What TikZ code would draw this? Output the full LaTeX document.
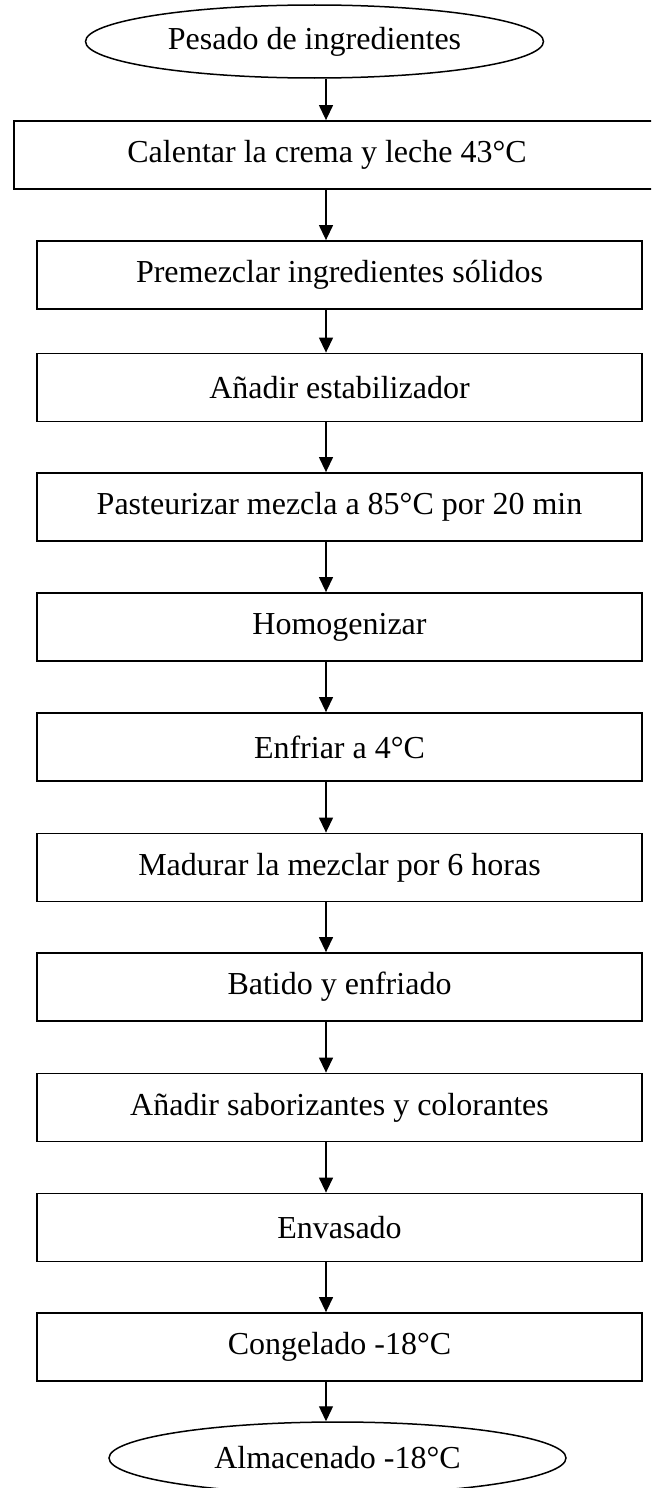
\documentclass[tikz,border=0pt]{standalone}
\usepackage{fontspec}
\setmainfont{Liberation Serif}
\usetikzlibrary{shapes.geometric,arrows.meta}
\tikzset{
  stepbox/.style={draw=black, line width=1.8pt, rectangle, minimum width=605pt, minimum height=68pt, inner sep=0pt, font=\fontsize{32}{37}\selectfont},
  termnode/.style={draw=black, line width=1.5pt, ellipse, minimum width=458pt, minimum height=73pt, inner sep=0pt, font=\fontsize{32}{37}\selectfont},
  txt/.style={inner sep=0pt, font=\fontsize{32}{37}\selectfont},
  arr/.style={line width=1.3pt, -{Triangle[width=14pt,length=15pt]}}
}
\begin{document}
\begin{tikzpicture}[x=1pt,y=-1pt]
\clip (0,0) rectangle (651,1488);
\fill[white] (0,0) rectangle (651,1488);
\coordinate (ax) at (326,0);
\node[termnode] (e1) at (314.5,41.5) {Pesado de ingredientes};
\node[stepbox, minimum width=700pt, anchor=west] (b1) at (13,155) {};
\node[txt] (t1) at (327,155) {Calentar la crema y leche 43°C};
\node[stepbox] (b2) at (339.5,275) {Premezclar ingredientes sólidos};
\node[stepbox] (b3) at (339.5,387.5) {Añadir estabilizador};
\node[stepbox] (b4) at (339.5,507) {Pasteurizar mezcla a 85°C por 20 min};
\node[stepbox] (b5) at (339.5,627) {Homogenizar};
\node[stepbox] (b6) at (339.5,747) {Enfriar a 4°C};
\node[stepbox] (b7) at (339.5,867.5) {Madurar la mezclar por 6 horas};
\node[stepbox] (b8) at (339.5,987) {Batido y enfriado};
\node[stepbox] (b9) at (339.5,1107.5) {Añadir saborizantes y colorantes};
\node[stepbox] (b10) at (339.5,1227.5) {Envasado};
\node[stepbox] (b11) at (339.5,1347) {Congelado -18°C};
\node[termnode, minimum width=457pt, minimum height=72pt] (e2) at (337.5,1458) {Almacenado -18°C};
\draw[arr] (e1.south -| ax) -- (b1.north -| ax);
\draw[arr] (b1.south -| ax) -- (b2.north -| ax);
\draw[arr] (b2.south -| ax) -- (b3.north -| ax);
\draw[arr] (b3.south -| ax) -- (b4.north -| ax);
\draw[arr] (b4.south -| ax) -- (b5.north -| ax);
\draw[arr] (b5.south -| ax) -- (b6.north -| ax);
\draw[arr] (b6.south -| ax) -- (b7.north -| ax);
\draw[arr] (b7.south -| ax) -- (b8.north -| ax);
\draw[arr] (b8.south -| ax) -- (b9.north -| ax);
\draw[arr] (b9.south -| ax) -- (b10.north -| ax);
\draw[arr] (b10.south -| ax) -- (b11.north -| ax);
\draw[arr] (b11.south -| ax) -- (e2.north -| ax);
\end{tikzpicture}
\end{document}
